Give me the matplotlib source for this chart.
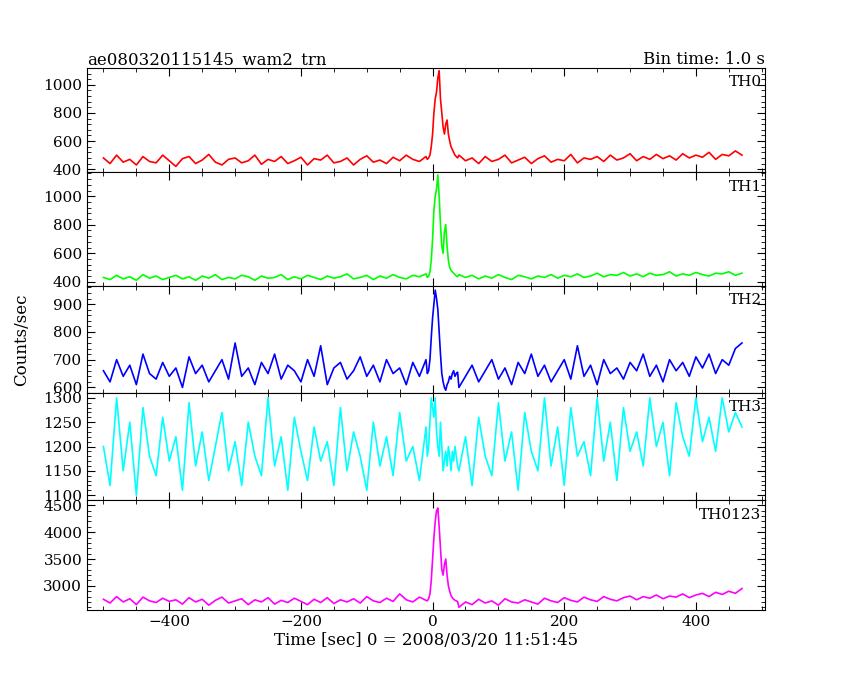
import numpy as np
import matplotlib
matplotlib.use("Agg")
import matplotlib.pyplot as plt
from matplotlib.ticker import MultipleLocator, AutoMinorLocator

t_pre = list(range(-500, 0, 10))
t_burst = list(range(-8, 40, 2))
t_post = list(range(40, 480, 10))
time = t_pre + t_burst + t_post

th0 = [480,440,500,450,470,430,490,455,445,500,460,420,475,490,440,465,505,450,430,470,480,445,460,500,435,470,455,490,440,460,485,430,475,465,500,445,455,480,430,470,495,450,465,440,485,460,500,470,455,490] + \
      [470,480,500,560,650,800,900,950,1050,1100,900,800,700,650,720,750,650,600,560,540,520,500,490,480] + \
      [500,460,480,440,490,455,470,500,445,465,485,440,475,495,450,470,460,505,445,480,470,490,455,500,465,480,510,460,490,470,505,475,495,465,510,480,500,485,520,470,505,495,530,500]
th1 = [430,415,445,420,435,410,450,425,440,415,430,445,420,435,410,440,425,450,415,430,420,445,435,410,440,425,430,450,415,435,420,445,430,415,440,425,435,455,420,430,445,415,440,425,450,430,420,445,435,455] + \
      [430,440,470,550,700,900,1000,1050,1150,1000,800,650,600,750,800,650,550,500,480,470,460,450,440,435] + \
      [450,430,445,420,440,425,450,430,415,445,435,420,440,430,450,425,445,435,455,430,440,460,435,450,445,465,440,455,435,460,445,450,470,440,455,445,465,450,440,460,455,470,445,460]
th2 = [660,620,700,640,680,610,720,650,630,690,640,670,600,710,650,680,620,660,700,630,760,640,670,610,690,650,720,630,680,660,620,700,640,750,610,670,690,630,660,710,640,680,620,700,650,670,610,690,640,700] + \
      [650,660,700,780,850,900,950,920,880,800,720,650,620,600,590,610,620,640,630,650,660,640,650,655] + \
      [600,640,680,620,660,700,630,670,610,690,650,720,640,680,620,660,700,630,750,640,680,610,700,650,670,630,690,660,720,640,680,620,700,660,690,640,710,670,720,650,700,680,740,760]
th3 = [1200,1120,1300,1150,1250,1100,1280,1180,1140,1260,1170,1220,1110,1290,1160,1230,1130,1200,1270,1150,1210,1120,1250,1180,1140,1300,1160,1220,1110,1260,1190,1130,1240,1170,1210,1120,1280,1150,1230,1180,1110,1250,1160,1220,1140,1270,1170,1200,1130,1240] + \
      [1180,1200,1250,1300,1280,1260,1300,1230,1200,1180,1250,1200,1150,1170,1190,1160,1200,1180,1150,1190,1170,1200,1180,1160] + \
      [1150,1220,1120,1260,1180,1140,1290,1170,1230,1110,1270,1190,1150,1300,1160,1240,1120,1280,1180,1210,1140,1300,1170,1250,1130,1280,1190,1230,1160,1300,1200,1250,1140,1290,1220,1180,1300,1210,1260,1190,1300,1230,1270,1240]
th0123 = [2750,2680,2800,2700,2760,2650,2790,2720,2690,2770,2710,2740,2660,2780,2700,2750,2640,2730,2790,2680,2720,2760,2650,2740,2700,2780,2660,2730,2690,2770,2710,2650,2750,2690,2780,2670,2740,2700,2760,2680,2800,2720,2690,2770,2710,2850,2740,2700,2790,2730] + \
      [2720,2760,2850,3100,3500,3900,4200,4400,4450,4100,3700,3300,3200,3400,3500,3200,3000,2900,2820,2780,2750,2730,2720,2710] + \
      [2600,2700,2650,2750,2680,2720,2640,2760,2700,2680,2740,2700,2660,2770,2720,2690,2780,2730,2700,2790,2740,2710,2800,2750,2720,2780,2810,2740,2800,2770,2830,2760,2810,2790,2850,2780,2830,2860,2800,2880,2840,2900,2860,2950]

series = [th0, th1, th2, th3, th0123]
names = ["TH0", "TH1", "TH2", "TH3", "TH0123"]
colors = ["#ff0000", "#00ff00", "#0000ff", "#00ffff", "#ff00ff"]
ylims = [(380, 1120), (370, 1170), (580, 965), (1090, 1310), (2550, 4600)]
majors = [200, 200, 100, 50, 500]

plt.rcParams['font.family'] = ['DejaVu Serif']
fig = plt.figure(figsize=(8.5, 6.8), dpi=100)
tops = [68, 172, 286, 393, 500, 610]
L, R = 87/850, 765/850
axes = []
for i in range(5):
    y0 = 1 - tops[i+1]/680
    h = (tops[i+1]-tops[i])/680
    ax = fig.add_axes([L, y0, R-L, h])
    ax.plot(time, series[i], color=colors[i], lw=1.2)
    ax.set_xlim(-525, 505)
    ax.set_ylim(*ylims[i])
    ax.yaxis.set_major_locator(MultipleLocator(majors[i]))
    ax.yaxis.set_minor_locator(AutoMinorLocator(5))
    ax.xaxis.set_major_locator(MultipleLocator(200))
    ax.xaxis.set_minor_locator(MultipleLocator(50))
    ax.tick_params(which='both', direction='in', top=True, right=True, labelsize=11)
    ax.tick_params(which='major', length=6)
    ax.tick_params(which='minor', length=3)
    if i == 3:
        ax.set_yticks([1100, 1150, 1200, 1250, 1300])
    if i == 4:
        ax.set_yticks([3000, 3500, 4000, 4500])
    if i < 4:
        ax.tick_params(labelbottom=False)
    ax.text(0.995, 0.93, names[i], transform=ax.transAxes, ha='right', va='top', fontsize=11)
    axes.append(ax)

axes[0].set_title("ae080320115145_wam2_trn", loc='left', fontsize=12, pad=3)
axes[0].set_title("Bin time: 1.0 s", loc='right', fontsize=12, pad=3)
axes[4].set_xlabel("Time [sec] 0 = 2008/03/20 11:51:45", fontsize=12, labelpad=2)
fig.text(0.015, 0.5 + 0.0, "Counts/sec", rotation=90, va='center', ha='left', fontsize=12)
fig.savefig("out.png", dpi=100)
